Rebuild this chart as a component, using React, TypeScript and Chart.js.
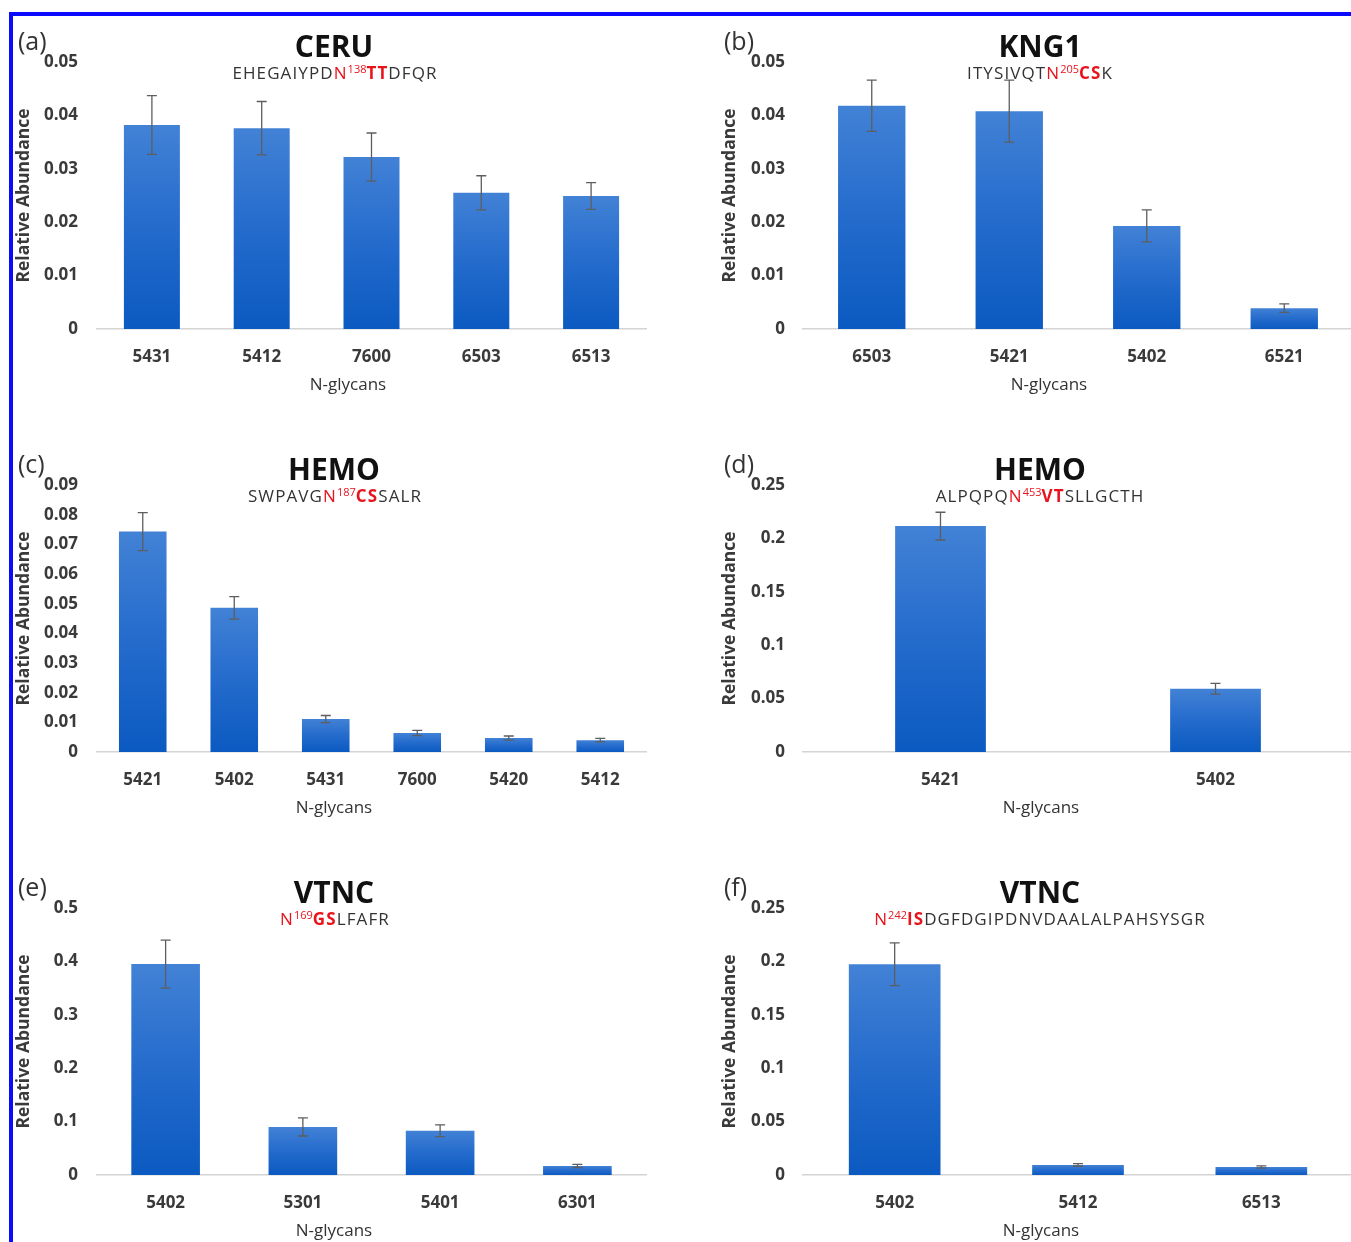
import React, { useEffect, useRef } from "react";
import { Chart, registerables } from "chart.js";

Chart.register(...registerables);

// ---------- data ----------
const ceruLabels = ["5431", "5412", "7600", "6503", "6513"];
const ceruValues = [0.0382, 0.0376, 0.0322, 0.0255, 0.0249];
const ceruErrors = [0.0055, 0.005, 0.0045, 0.0032, 0.0025];

const kngLabels = ["6503", "5421", "5402", "6521"];
const kngValues = [0.0418, 0.0408, 0.0193, 0.0039];
const kngErrors = [0.0048, 0.0058, 0.003, 0.0008];

const hemo187Labels = ["5421", "5402", "5431", "7600", "5420", "5412"];
const hemo187Values = [0.0743, 0.0486, 0.0111, 0.0064, 0.0047, 0.004];
const hemo187Errors = [0.0064, 0.0038, 0.0012, 0.0009, 0.0007, 0.0006];

const hemo453Labels = ["5421", "5402"];
const hemo453Values = [0.2115, 0.0592];
const hemo453Errors = [0.013, 0.005];

const vtnc169Labels = ["5402", "5301", "5401", "6301"];
const vtnc169Values = [0.395, 0.09, 0.083, 0.017];
const vtnc169Errors = [0.045, 0.017, 0.011, 0.003];

const vtnc242Labels = ["5402", "5412", "6513"];
const vtnc242Values = [0.1974, 0.0094, 0.0075];
const vtnc242Errors = [0.02, 0.0012, 0.001];

const yMaxes = [0.05, 0.05, 0.09, 0.25, 0.5, 0.25];
const ySteps = [0.01, 0.01, 0.01, 0.05, 0.1, 0.05];

type Seg = { t: string; red?: boolean; bold?: boolean; sup?: boolean };

const panels = [
  { tag: "(a)", title: "CERU", labels: ceruLabels, values: ceruValues, errors: ceruErrors, barPct: 0.51,
    seq: [{ t: "EHEGAIYPD" }, { t: "N", red: true }, { t: "138", red: true, sup: true }, { t: "TT", red: true, bold: true }, { t: "DFQR" }] as Seg[] },
  { tag: "(b)", title: "KNG1", labels: kngLabels, values: kngValues, errors: kngErrors, barPct: 0.49,
    seq: [{ t: "ITYSIVQT" }, { t: "N", red: true }, { t: "205", red: true, sup: true }, { t: "CS", red: true, bold: true }, { t: "K" }] as Seg[] },
  { tag: "(c)", title: "HEMO", labels: hemo187Labels, values: hemo187Values, errors: hemo187Errors, barPct: 0.52,
    seq: [{ t: "SWPAVG" }, { t: "N", red: true }, { t: "187", red: true, sup: true }, { t: "CS", red: true, bold: true }, { t: "SALR" }] as Seg[] },
  { tag: "(d)", title: "HEMO", labels: hemo453Labels, values: hemo453Values, errors: hemo453Errors, barPct: 0.33,
    seq: [{ t: "ALPQPQ" }, { t: "N", red: true }, { t: "453", red: true, sup: true }, { t: "VT", red: true, bold: true }, { t: "SLLGCTH" }] as Seg[] },
  { tag: "(e)", title: "VTNC", labels: vtnc169Labels, values: vtnc169Values, errors: vtnc169Errors, barPct: 0.5,
    seq: [{ t: "N", red: true }, { t: "169", red: true, sup: true }, { t: "GS", red: true, bold: true }, { t: "LFAFR" }] as Seg[] },
  { tag: "(f)", title: "VTNC", labels: vtnc242Labels, values: vtnc242Values, errors: vtnc242Errors, barPct: 0.5,
    seq: [{ t: "N", red: true }, { t: "242", red: true, sup: true }, { t: "IS", red: true, bold: true }, { t: "DGFDGIPDNVDAALALPAHSYSGR" }] as Seg[] },
];

// ---------- layout ----------
const ROW_STEP = 423;
const FONT = "'Open Sans', 'DejaVu Sans', sans-serif";
const TEXT = "#3a3a3a";

function geom(i: number) {
  const col = i % 2;
  const row = Math.floor(i / 2);
  const dy = row * ROW_STEP;
  if (col === 0) {
    return {
      canvasLeft: 12, canvasTop: 20 + dy, width: 645, height: 380,
      yWidth: 85, yTitlePad: 1.8, yTickPad: 19, padRight: 11,
      tagX: 18, tagY: 40 + dy,
      titleX: 334, titleY: 46 + dy, seqX: 335, seqY: 72 + dy,
      xTitleX: row === 0 ? 348 : 334, xTitleY: 383 + dy,
    };
  }
  return {
    canvasLeft: 715, canvasTop: 20 + dy, width: 645, height: 380,
    yWidth: 88, yTitlePad: 4.8, yTickPad: 18, padRight: 7,
    tagX: 724, tagY: 40 + dy,
    titleX: 1040, titleY: 46 + dy, seqX: 1040, seqY: 72 + dy,
    xTitleX: row === 0 ? 1049 : 1041, xTitleY: 383 + dy,
  };
}

function fmt(v: number) {
  if (v === 0) return "0";
  return String(parseFloat(v.toFixed(3)));
}

function Panel({ idx }: { idx: number }) {
  const ref = useRef<HTMLCanvasElement | null>(null);
  const p = panels[idx];
  const g = geom(idx);

  useEffect(() => {
    if (!ref.current) return;
    const errs = p.errors;
    const errorBars = {
      id: "errorBars" + idx,
      afterDatasetsDraw(chart: any) {
        const ctx = chart.ctx;
        const meta = chart.getDatasetMeta(0);
        const ys = chart.scales.y;
        ctx.save();
        ctx.strokeStyle = "#5e5e5e";
        ctx.lineWidth = 1.3;
        meta.data.forEach((bar: any, i: number) => {
          const v = chart.data.datasets[0].data[i] as number;
          const e = errs[i];
          const x = bar.x;
          const yt = ys.getPixelForValue(v + e);
          const yb = ys.getPixelForValue(Math.max(0, v - e));
          ctx.beginPath();
          ctx.moveTo(x, yt);
          ctx.lineTo(x, yb);
          ctx.moveTo(x - 5, yt);
          ctx.lineTo(x + 5, yt);
          ctx.moveTo(x - 5, yb);
          ctx.lineTo(x + 5, yb);
          ctx.stroke();
        });
        ctx.restore();
      },
    };
    const chart = new Chart(ref.current, {
      type: "bar",
      data: {
        labels: p.labels,
        datasets: [
          {
            data: p.values,
            categoryPercentage: 1,
            barPercentage: p.barPct,
            borderWidth: 0,
            backgroundColor: (c: any) => {
              const ch = c.chart;
              const ys = ch.scales && ch.scales.y;
              if (!ch.chartArea || !ys || typeof c.raw !== "number") return "#2a6fcf";
              const top = ys.getPixelForValue(c.raw);
              const bottom = ys.getPixelForValue(0);
              if (!(bottom > top)) return "#2a6fcf";
              const gr = ch.ctx.createLinearGradient(0, top, 0, bottom);
              gr.addColorStop(0, "#4282d6");
              gr.addColorStop(0.5, "#246bcc");
              gr.addColorStop(1, "#0b5ac1");
              return gr;
            },
          },
        ],
      },
      options: {
        animation: false,
        responsive: false,
        events: [],
        layout: { padding: { top: 42, right: g.padRight, left: 0, bottom: 0 } },
        plugins: { legend: { display: false }, tooltip: { enabled: false }, title: { display: false } },
        scales: {
          x: {
            grid: { display: false, drawTicks: false },
            border: { display: true, color: "#d4d4d4", width: 1.5 },
            ticks: { color: TEXT, padding: 18, font: { family: FONT, size: 17, weight: "bold" } },
            afterFit: (s: any) => { s.height = 71; },
          },
          y: {
            min: 0,
            max: yMaxes[idx],
            grid: { display: false, drawTicks: false },
            border: { display: false },
            ticks: {
              stepSize: ySteps[idx],
              color: TEXT,
              padding: g.yTickPad,
              font: { family: FONT, size: 17, weight: "bold" },
              callback: (v: any) => fmt(Number(v)),
            },
            title: {
              display: true,
              text: "Relative Abundance",
              color: TEXT,
              padding: { top: g.yTitlePad, bottom: 0 },
              font: { family: FONT, size: 17.5, weight: "bold" },
            },
            afterFit: (s: any) => { s.width = g.yWidth; },
          },
        },
      } as any,
      plugins: [errorBars],
    });
    return () => chart.destroy();
  }, [idx]);

  const center = (x: number, y: number): React.CSSProperties => ({
    position: "absolute", left: x, top: y, transform: "translate(-50%, -50%)", whiteSpace: "nowrap",
  });

  return (
    <>
      <canvas
        ref={ref}
        width={g.width}
        height={g.height}
        style={{ position: "absolute", left: g.canvasLeft, top: g.canvasTop, width: g.width, height: g.height }}
      />
      <div style={{ position: "absolute", left: g.tagX, top: g.tagY, transform: "translateY(-50%)", font: `400 25px ${FONT}`, color: "#333", whiteSpace: "nowrap" }}>
        {p.tag}
      </div>
      <div style={{ ...center(g.titleX, g.titleY), font: `700 30px ${FONT}`, color: "#111", lineHeight: 1 }}>{p.title}</div>
      <div style={{ ...center(g.seqX, g.seqY), font: `400 17px ${FONT}`, color: "#333", lineHeight: 1, letterSpacing: "1.1px" }}>
        {p.seq.map((s, k) => (
          <span
            key={k}
            style={{
              color: s.red ? "#e8141c" : "#333",
              fontWeight: s.bold ? 700 : 400,
              fontSize: s.sup ? 11 : 17,
              letterSpacing: s.sup ? "0px" : "1.1px",
              verticalAlign: s.sup ? "super" : "baseline",
              lineHeight: 1,
            }}
          >
            {s.t}
          </span>
        ))}
      </div>
      <div style={{ ...center(g.xTitleX, g.xTitleY), font: `500 17px ${FONT}`, color: "#333" }}>N-glycans</div>
    </>
  );
}

export default function App() {
  return (
    <div style={{ position: "absolute", left: 0, top: 0, width: 1351, height: 1242, overflow: "hidden", background: "#fff" }}>
      {panels.map((_, i) => (
        <Panel key={i} idx={i} />
      ))}
      <div style={{ position: "absolute", left: 9, top: 12, width: 1342, height: 4, background: "#0a0aff" }} />
      <div style={{ position: "absolute", left: 9, top: 12, width: 4, height: 1230, background: "#0a0aff" }} />
    </div>
  );
}
